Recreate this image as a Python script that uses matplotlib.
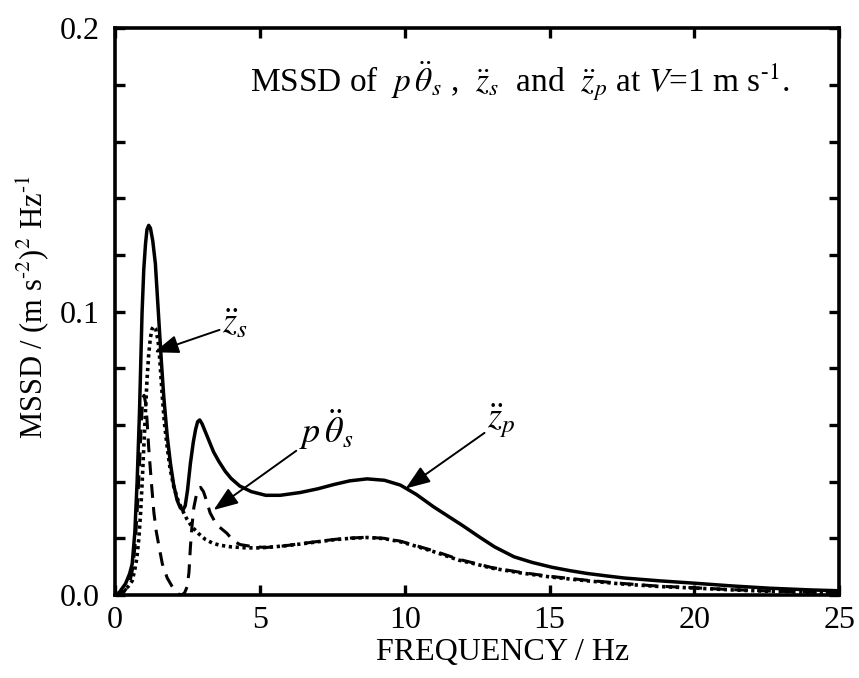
import numpy as np
import matplotlib
matplotlib.use("Agg")
import matplotlib.pyplot as plt
from matplotlib.ticker import FixedLocator, FuncFormatter

plt.rcParams['font.family'] = ['Liberation Serif', 'DejaVu Serif']
plt.rcParams['mathtext.fontset'] = 'stix'

# z_p (solid)
f_zp = [0, 0.15, 0.36, 0.5, 0.59, 0.68, 0.76, 0.84, 0.93, 0.99, 1.05, 1.1, 1.16, 1.22, 1.3, 1.39,
        1.51, 1.6, 1.68, 1.8, 1.91, 2.02, 2.14, 2.25, 2.34, 2.42, 2.5, 2.6, 2.7, 2.78, 2.85, 2.92,
        3.0, 3.1, 3.24, 3.4, 3.58, 3.8, 4.0, 4.3, 4.7, 5.2, 5.7, 6.4, 7.0, 7.55, 8.1, 8.7, 9.3,
        9.85, 10.4, 11.0, 11.5, 12.0, 12.56, 13.1, 13.77, 14.4, 15.08, 15.7, 16.3, 17.0, 17.58,
        18.8, 20.1, 21.3, 22.6, 24.0, 25.0]
v_zp = [0, 0.001, 0.004, 0.0075, 0.011, 0.022, 0.040, 0.064, 0.0995, 0.115, 0.124, 0.129, 0.1305,
        0.1295, 0.125, 0.117, 0.097, 0.082, 0.070, 0.056, 0.0465, 0.039, 0.0335, 0.0308, 0.030,
        0.0315, 0.037, 0.0465, 0.054, 0.0585, 0.0612, 0.0618, 0.0605, 0.058, 0.0545, 0.0505,
        0.0472, 0.0437, 0.0412, 0.0385, 0.0365, 0.0352, 0.0352, 0.0362, 0.0375, 0.039, 0.0403,
        0.041, 0.0405, 0.0388, 0.0355, 0.0311, 0.0278, 0.0245, 0.0206, 0.017, 0.0135, 0.0115,
        0.0098, 0.0086, 0.0076, 0.0067, 0.006, 0.005, 0.0041, 0.0032, 0.0024, 0.0018, 0.0015]

# z_s (dotted)
f_zs = [0, 0.24, 0.45, 0.59, 0.68, 0.75, 0.82, 0.88, 0.94, 0.99, 1.05, 1.1, 1.16, 1.22, 1.28, 1.33,
        1.4, 1.46, 1.51, 1.57, 1.63, 1.7, 1.8, 1.9, 2.03, 2.17, 2.32, 2.48, 2.66, 2.9, 3.12, 3.35,
        3.6, 4.0, 4.44, 4.85, 5.24, 5.8, 6.4, 7.0, 7.55, 8.1, 8.7, 9.3, 9.85, 10.4, 11.0, 11.87,
        12.5, 13.0, 14.0, 15.0, 16.3, 17.6, 18.8, 20.1, 21.3, 22.6, 24.0, 25.0]
v_zs = [0, 0.001, 0.003, 0.005, 0.009, 0.013, 0.02, 0.029, 0.041, 0.052, 0.065, 0.0758, 0.085, 0.091,
        0.094, 0.0948, 0.094, 0.091, 0.0876, 0.079, 0.070, 0.061, 0.052, 0.0445, 0.038, 0.0335,
        0.030, 0.0268, 0.024, 0.0215, 0.0196, 0.0184, 0.0176, 0.017, 0.0167, 0.0166, 0.0168,
        0.0173, 0.018, 0.0188, 0.0195, 0.02, 0.0203, 0.0199, 0.0188, 0.0172, 0.0153, 0.0123,
        0.0108, 0.0095, 0.0078, 0.0064, 0.005, 0.0038, 0.003, 0.0024, 0.0018, 0.0013, 0.001, 0.0008]

# p*theta_s (dashed)
f_pt = [0, 0.3, 0.5, 0.62, 0.7, 0.78, 0.85, 0.91, 0.96, 1.0, 1.05, 1.1, 1.16, 1.25, 1.34, 1.42, 1.5,
        1.63, 1.8, 1.97, 2.1, 2.2, 2.3, 2.4, 2.49, 2.55, 2.6, 2.66, 2.72, 2.8, 2.88, 2.95, 3.05,
        3.15, 3.28, 3.45, 3.6, 3.86, 4.09, 4.32, 4.8, 5.24, 5.8, 6.4, 7.0, 7.55, 8.1, 8.7, 9.3,
        9.85, 10.4, 11.0, 11.87, 12.5, 13.0, 14.0, 15.0, 16.3, 17.6, 18.8, 20.1, 21.3, 22.6,
        24.0, 25.0]
v_pt = [0, 0.001, 0.004, 0.01, 0.019, 0.033, 0.048, 0.062, 0.0695, 0.0705, 0.068, 0.062, 0.052,
        0.04, 0.029, 0.0225, 0.018, 0.011, 0.006, 0.003, 0.0012, 0.0003, 0.0, 0.0008, 0.003, 0.008,
        0.017, 0.025, 0.031, 0.035, 0.0375, 0.038, 0.0365, 0.0335, 0.029, 0.0258, 0.024, 0.0218,
        0.019, 0.0178, 0.0170, 0.0168, 0.0173, 0.0181, 0.0189, 0.0196, 0.0201, 0.0204, 0.02,
        0.019, 0.0174, 0.0156, 0.0126, 0.011, 0.0097, 0.008, 0.0066, 0.0052, 0.004, 0.0031,
        0.0025, 0.0019, 0.0014, 0.001, 0.0009]

x_ticks = [0, 5, 10, 15, 20, 25]
y_ticks = [0.0, 0.02, 0.04, 0.06, 0.08, 0.1, 0.12, 0.14, 0.16, 0.18, 0.2]
y_labeled = [0.0, 0.1, 0.2]

fig = plt.figure(figsize=(8.59, 6.78), dpi=100)
ax = fig.add_axes([0.134, 0.1224, 0.843, 0.8356])

ax.plot(f_zp, v_zp, color='black', lw=2.5, ls='-', solid_joinstyle='round')
ax.plot(f_zs, v_zs, color='black', lw=2.6, ls=(0, (0.9, 1.0)))
ax.plot(f_pt, v_pt, color='black', lw=2.2, ls=(0, (4.5, 3.0)))

ax.set_xlim(0, 25)
ax.set_ylim(0, 0.2)
ax.xaxis.set_major_locator(FixedLocator(x_ticks))
ax.yaxis.set_major_locator(FixedLocator(y_ticks))
ax.yaxis.set_major_formatter(FuncFormatter(
    lambda v, p: (f"{v:.1f}" if any(abs(v - t) < 1e-9 for t in y_labeled) else "")))
ax.tick_params(direction='in', top=True, right=True, length=7, width=2.4,
               labelsize=23, pad=8)
ax.tick_params(axis='y', pad=11)
for s in ax.spines.values():
    s.set_linewidth(2.6)

ax.set_xlabel('FREQUENCY / Hz', fontsize=23)
ax.xaxis.set_label_coords(0.535, -0.075)
ax.set_ylabel(r'MSSD / (m s$^{\text{-}2}$)$^{2}$ Hz$^{\text{-}1}$', fontsize=22)
ax.yaxis.set_label_coords(-0.088, 0.508)

ax.text(4.67, 0.1815,
        r'MSSD of  $p\,\ddot{\theta}_s$ ,  $\ddot{z}_s$  and  $\ddot{z}_p$ at $V$=1 m s$^{\text{-}1}$.',
        fontsize=24, ha='left', va='center')

arrow = dict(arrowstyle='-|>,head_length=0.75,head_width=0.28', color='black', lw=1.4,
             mutation_scale=20, shrinkA=0, shrinkB=0)
ax.annotate(r'$\ddot{z}_s$', xy=(1.35, 0.0857), xytext=(3.7, 0.0955), fontsize=26,
            ha='left', va='center', arrowprops=arrow)
ax.annotate(r'$p\,\ddot{\theta}_s$', xy=(3.4, 0.030), xytext=(6.35, 0.0585), fontsize=26,
            ha='left', va='center', arrowprops=arrow)
ax.annotate(r'$\ddot{z}_p$', xy=(10.03, 0.0376), xytext=(12.85, 0.0615), fontsize=26,
            ha='left', va='center', arrowprops=arrow)

fig.savefig('out.png', dpi=100)
